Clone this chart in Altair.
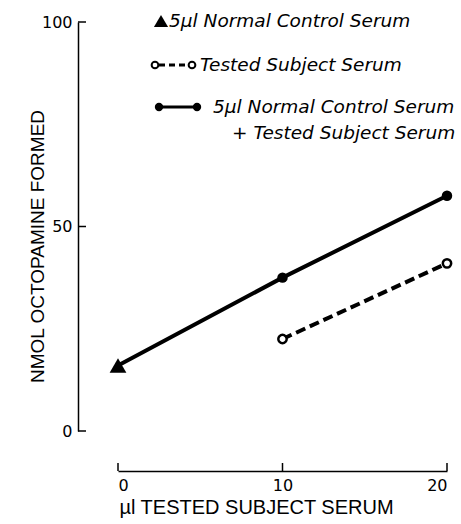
import altair as alt
import pandas as pd

# ---- data ----
x_ul = [0, 10, 20]
combined = [16, 37.5, 57.5]       # 5 µl control (x=0) and control + tested (10, 20)
tested_x = [10, 20]
tested = [22.5, 41]
y_ticks = [0, 50, 100]
x_ticks = [0, 10, 20]

W, H = 329, 409
OFF = 40
BLACK = "#000000"
LAB_FONT = "DejaVu Sans"
TITLE_FONT = "Liberation Sans"

df_comb = pd.DataFrame({"x": x_ul, "y": combined})
df_ctrl = df_comb.iloc[:1]
df_mix = df_comb.iloc[1:]
df_test = pd.DataFrame({"x": tested_x, "y": tested})

xs = alt.Scale(domain=[0, 20], nice=False, zero=False)
ys = alt.Scale(domain=[0, 100], nice=False, zero=False)

x_axis = alt.Axis(
    values=x_ticks, offset=OFF, tickSize=0, labelPadding=6, grid=False,
    domainColor=BLACK, domainWidth=1.5, labelColor=BLACK, labelFont=LAB_FONT,
    labelFontSize=16, title="µl TESTED SUBJECT SERUM", titleFont=TITLE_FONT,
    titleFontSize=20, titleFontWeight="normal", titleColor=BLACK,
    titleX=138, titleY=36, titleAlign="center", titleBaseline="middle",
)
y_axis = alt.Axis(
    values=y_ticks, offset=OFF, tickSize=0, labelPadding=6, grid=False,
    domainColor=BLACK, domainWidth=1.5, labelColor=BLACK, labelFont=LAB_FONT,
    labelFontSize=16, title="NMOL OCTOPAMINE FORMED", titleFont=TITLE_FONT,
    titleFontSize=19, titleFontWeight="normal", titleColor=BLACK,
    titleX=-41, titleY=224, titleAngle=-90, titleAlign="center",
    titleBaseline="middle",
)

X = alt.X("x:Q", scale=xs, axis=x_axis)
Y = alt.Y("y:Q", scale=ys, axis=y_axis)

solid = alt.Chart(df_comb).mark_line(color=BLACK, strokeWidth=4).encode(x=X, y=Y)
mix_pts = alt.Chart(df_mix).mark_point(
    shape="circle", filled=True, color=BLACK, size=110, opacity=1
).encode(x=X, y=Y)
ctrl_pt = alt.Chart(df_ctrl).mark_point(
    shape="triangle-up", filled=True, color=BLACK, size=280, opacity=1
).encode(x=X, y=Y)
dashed = alt.Chart(df_test).mark_line(
    color=BLACK, strokeWidth=4, strokeDash=[10, 5]
).encode(x=X, y=Y)
test_pts = alt.Chart(df_test).mark_point(
    shape="circle", filled=True, fill="white", stroke=BLACK, strokeWidth=2.5,
    size=70, opacity=1
).encode(x=X, y=Y)

# inward-pointing ticks
ytick = alt.Chart(pd.DataFrame({"y": y_ticks})).mark_rule(
    color=BLACK, strokeWidth=1.5
).encode(y=Y, x=alt.value(-OFF), x2=alt.value(-OFF + 8))
xtick = alt.Chart(pd.DataFrame({"x": x_ticks})).mark_rule(
    color=BLACK, strokeWidth=1.5
).encode(x=X, y=alt.value(H + OFF), y2=alt.value(H + OFF - 8))

# ---- hand-drawn style legend ----
one = pd.DataFrame({"k": [0]})
leg = []
leg.append(alt.Chart(one).mark_point(shape="triangle-up", filled=True,
           color=BLACK, size=200, opacity=1).encode(x=alt.value(43), y=alt.value(-1)))
leg.append(alt.Chart(one).mark_rule(color=BLACK, strokeWidth=3,
           strokeDash=[6, 4]).encode(x=alt.value(41), x2=alt.value(71),
                                     y=alt.value(43)))
for xx in (37, 74):
    leg.append(alt.Chart(one).mark_point(shape="circle", filled=True, fill="white",
               stroke=BLACK, strokeWidth=2, size=45, opacity=1)
               .encode(x=alt.value(xx), y=alt.value(43)))
leg.append(alt.Chart(one).mark_rule(color=BLACK, strokeWidth=3).encode(
    x=alt.value(41), x2=alt.value(79), y=alt.value(85)))
for xx in (41, 79):
    leg.append(alt.Chart(one).mark_point(shape="circle", filled=True, color=BLACK,
               size=70, opacity=1).encode(x=alt.value(xx), y=alt.value(85)))

leg_text = ["5µl Normal  Control  Serum", "Tested Subject Serum",
            "5µl Normal Control Serum", "+ Tested Subject Serum"]
leg_tx = [51, 82, 95, 114]
leg_ty = [-1, 43, 85, 111]
for t, tx, ty in zip(leg_text, leg_tx, leg_ty):
    leg.append(alt.Chart(pd.DataFrame({"t": [t]})).mark_text(
        align="left", baseline="middle", font=LAB_FONT, fontSize=18.5,
        fontStyle="italic", color=BLACK
    ).encode(text="t:N", x=alt.value(tx), y=alt.value(ty)))

chart = alt.layer(solid, dashed, ctrl_pt, mix_pts, test_pts, ytick, xtick, *leg).properties(
    width=W, height=H,
    autosize=alt.AutoSizeParams(type="none"),
    padding={"left": 118, "top": 22, "right": 14, "bottom": 93},
    background="white",
).configure_view(stroke=None)

chart.save("out.html", embed_options={"renderer": "svg", "actions": False})
